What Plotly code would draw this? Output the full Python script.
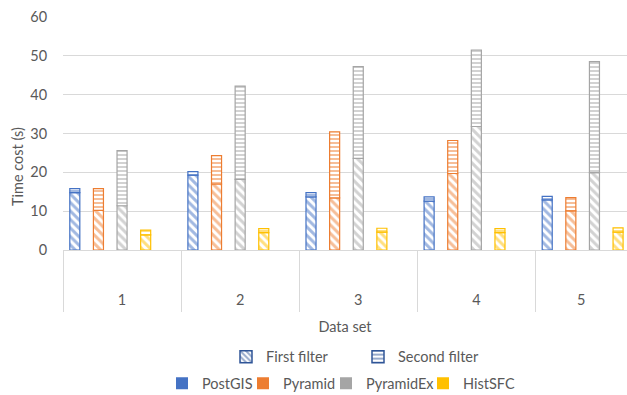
import plotly.graph_objects as go

# ---- data ----
datasets = [1, 2, 3, 4, 5]
dataset_labels = ["1", "2", "3", "4", "5"]
methods = ["PostGIS", "Pyramid", "PyramidEx", "HistSFC"]
colors = ["#4472C4", "#ED7D31", "#A5A5A5", "#FFC000"]

first_filter = {
    "PostGIS":   [14.8, 19.3, 13.7, 12.6, 12.9],
    "Pyramid":   [10.2, 17.0, 13.4, 19.7, 10.1],
    "PyramidEx": [11.4, 18.2, 23.6, 31.8, 19.9],
    "HistSFC":   [3.9, 4.5, 4.6, 4.5, 4.6],
}
second_filter = {
    "PostGIS":   [1.0, 0.9, 1.1, 1.1, 0.9],
    "Pyramid":   [5.6, 7.3, 17.0, 8.5, 3.4],
    "PyramidEx": [14.2, 24.0, 23.6, 19.7, 28.6],
    "HistSFC":   [1.2, 1.0, 1.0, 1.0, 1.1],
}
y_ticks = [0, 10, 20, 30, 40, 50, 60]

# ---- layout constants ----
W, H = 627, 395
ML, MR, MT, MB = 63, 0, 17, 145
plot_w = W - ML - MR
plot_h = H - MT - MB
cat_px = 118.1
x_lo = 0.5
x_hi = x_lo + plot_w / cat_px
slots = 5
slot_w = 1.0 / slots
bar_w = 0.085
font_family = "Lato, 'Open Sans', sans-serif"
fs = 14.5
txt_color = "#595959"
grid_color = "#D9D9D9"


def py(page_y):
    return (H - MB - page_y) / plot_h


def px(page_x):
    return (page_x - ML) / plot_w


fig = go.Figure()

for k, m in enumerate(methods):
    off = -0.5 + slot_w * (k + 0.5) - bar_w / 2
    fig.add_trace(go.Bar(
        x=datasets, y=first_filter[m], width=bar_w, offset=off,
        marker=dict(color="white", line=dict(color=colors[k], width=1.2),
                    pattern=dict(shape="\\", fgcolor=colors[k], bgcolor="white",
                                 size=6, solidity=0.5, fillmode="overlay")),
        showlegend=False, name=m + " first filter",
    ))
    fig.add_trace(go.Bar(
        x=datasets, y=second_filter[m], base=first_filter[m], width=bar_w, offset=off,
        marker=dict(color="white", line=dict(color=colors[k], width=1.2),
                    pattern=dict(shape="-", fgcolor=colors[k], bgcolor="white",
                                 size=4, solidity=0.5, fillmode="overlay")),
        showlegend=False, name=m + " second filter",
    ))

# legend row 1: filter patterns
filter_names = ["First filter", "Second filter"]
filter_shapes = ["\\", "-"]
filter_widths = [87, 82]
for name, shp, lw in zip(filter_names, filter_shapes, filter_widths):
    fig.add_trace(go.Bar(
        x=[None], y=[None], name=name, legend="legend", legendwidth=lw,
        marker=dict(color="white", line=dict(color="#2F5597", width=1.5),
                    pattern=dict(shape=shp, fgcolor="#2F5597", bgcolor="white",
                                 size=5, solidity=0.5, fillmode="overlay")),
    ))

# legend row 2: methods
method_widths = [36, 38, 52, 50]
for k, m in enumerate(methods):
    fig.add_trace(go.Bar(
        x=[None], y=[None], name=m, legend="legend2", legendwidth=method_widths[k],
        marker=dict(color=colors[k], line=dict(width=0)),
    ))

tick_pos = [(min(d + 0.5, x_hi) + (d - 0.5)) / 2 for d in datasets]
boundaries = [d - 0.5 for d in datasets]

fig.update_layout(
    width=W, height=H,
    margin=dict(l=ML, r=MR, t=MT, b=MB, autoexpand=False),
    paper_bgcolor="white", plot_bgcolor="white",
    barmode="overlay",
    font=dict(family=font_family, size=fs, color=txt_color),
    xaxis=dict(
        range=[x_lo, x_hi], tickmode="array", tickvals=tick_pos, ticktext=dataset_labels,
        showgrid=False, zeroline=False, showline=True, linecolor=grid_color, linewidth=1,
        ticks="outside", ticklen=37, tickcolor="rgba(0,0,0,0)",
        minor=dict(tickmode="array", tickvals=boundaries, ticks="outside",
                   ticklen=61, tickcolor=grid_color, tickwidth=1, showgrid=False),
        tickfont=dict(size=fs, color=txt_color),
        title=dict(text="Data set", font=dict(size=fs, color=txt_color), standoff=14),
        fixedrange=True,
    ),
    yaxis=dict(
        range=[0, 60], tickmode="array", tickvals=y_ticks,
        showgrid=True, gridcolor=grid_color, gridwidth=1, zeroline=False, showline=False,
        ticks="outside", ticklen=12, tickcolor="rgba(0,0,0,0)",
        tickfont=dict(size=fs, color=txt_color),
        fixedrange=True,
    ),
    legend=dict(orientation="h", x=px(226), xanchor="left", y=py(356.7), yanchor="middle",
                font=dict(size=fs, color=txt_color), bgcolor="rgba(0,0,0,0)",
                itemclick=False, itemdoubleclick=False),
    legend2=dict(orientation="h", x=px(162), xanchor="left", y=py(383.3), yanchor="middle",
                 font=dict(size=fs, color=txt_color), bgcolor="rgba(0,0,0,0)",
                 itemclick=False, itemdoubleclick=False),
    annotations=[dict(text="Time cost (s)", textangle=-90, showarrow=False,
                      xref="paper", yref="paper", x=px(17), y=py(166),
                      xanchor="center", yanchor="middle",
                      font=dict(size=fs, color=txt_color))],
)

fig.write_html(
    "out.html",
    config={"displayModeBar": False},
    post_script="document.body.style.margin='0';document.body.style.overflow='hidden';",
)
